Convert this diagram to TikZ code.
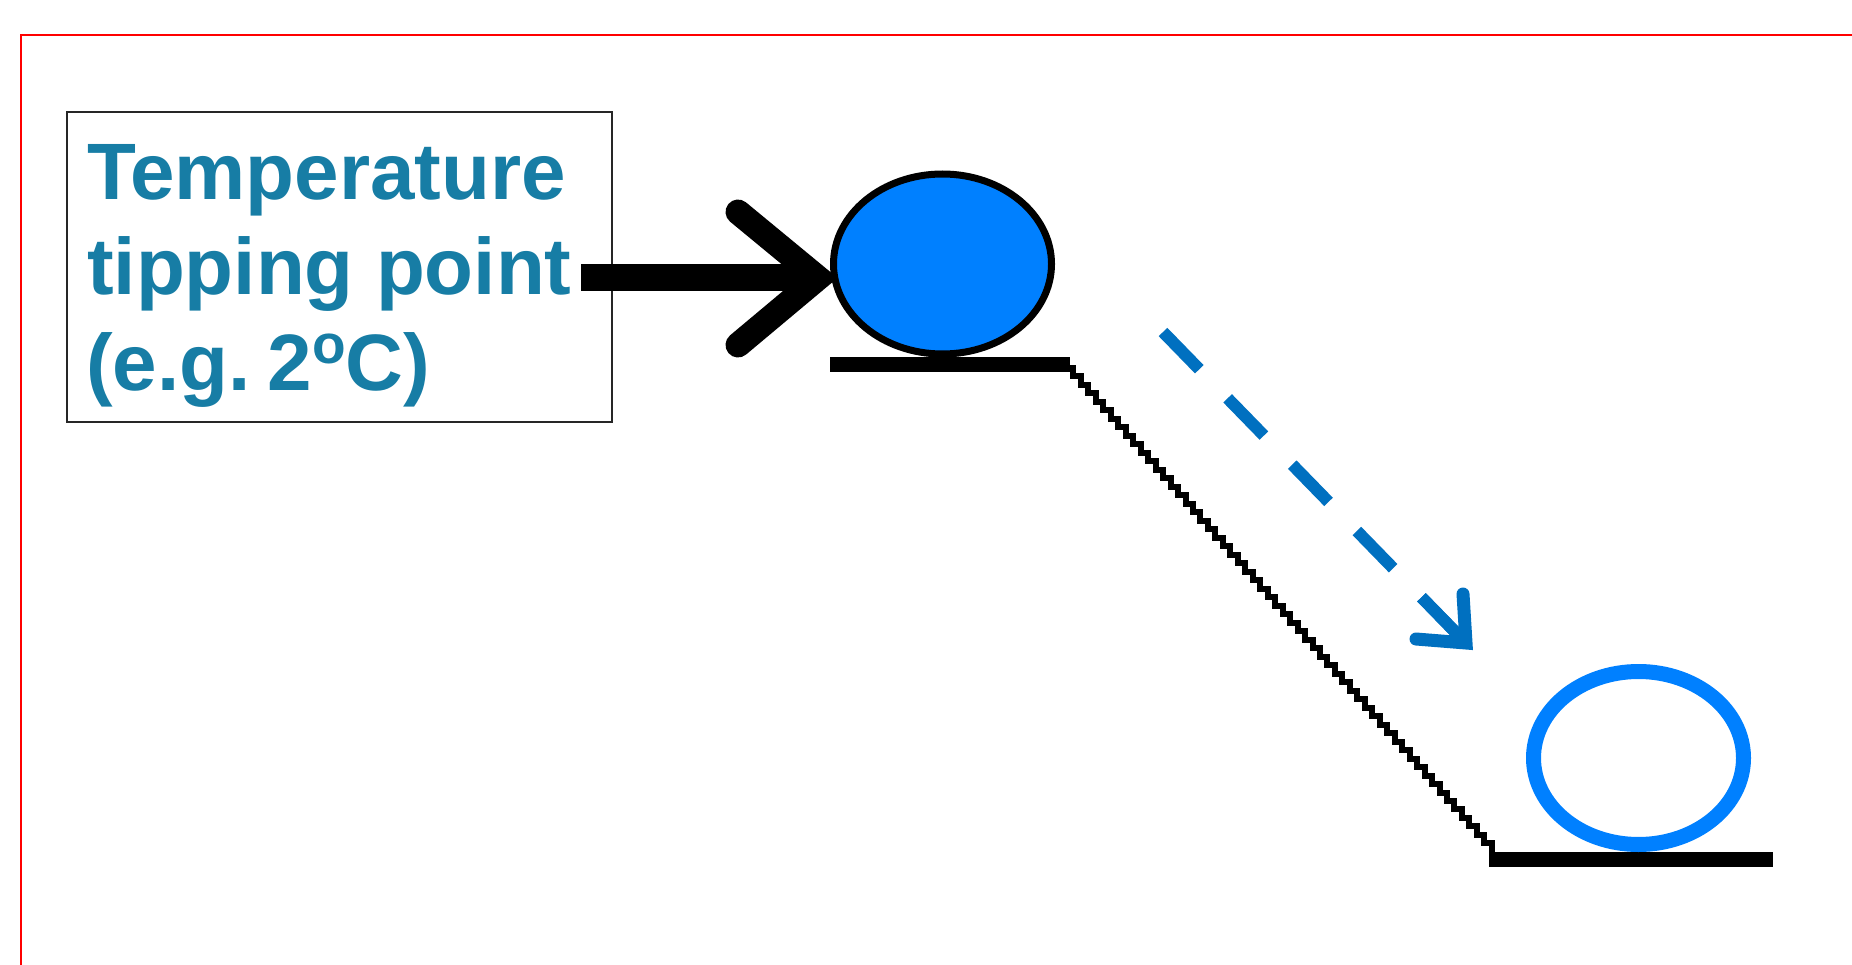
\documentclass[tikz,border=0pt]{standalone}
\usepackage{fontspec}
\setmainfont{Liberation Sans}
\usetikzlibrary{shapes.geometric}
\definecolor{txtblue}{HTML}{177DA5}
\definecolor{ballblue}{HTML}{0080FF}
\definecolor{dashblue}{HTML}{0070C0}
\begin{document}
\begin{tikzpicture}[x=1pt,y=-1pt,
  lbl/.style={anchor=base west, inner sep=0pt, font=\fontsize{80}{94}\selectfont\bfseries, text=txtblue},
  ground/.style={line width=15pt},
  bigarrow/.style={line width=25pt, line cap=round, line join=miter},
  fallarrow/.style={dashblue, line width=12pt},
  fallhead/.style={dashblue, line width=13pt, line cap=round, line join=miter}]
\useasboundingbox (0,0) rectangle (1852,965);
\fill[white] (0,0) rectangle (1852,965);
\draw[red, line width=1.5pt] (21,965) -- (21,35) -- (1852,35);
% text box
\node[draw=black!85, line width=2pt, minimum width=545pt, minimum height=310pt, inner sep=0pt] (box) at (339.5,267) {};
\node[lbl] (t1) at (87,200) {Temperature};
\node[lbl] (t2) at (87,295) {tipping point};
\node[lbl] (t3) at (86,391) {(e.g.\hspace{17pt}2\raisebox{28pt}{\fontsize{55}{55}\selectfont o}C)};
% black arrow
\coordinate (shaftL) at (581,278);
\coordinate (tipV) at (818,278);
\coordinate (wA) at (738,212);
\coordinate (wB) at (738,345);
\draw[line width=27pt] (shaftL) -- (tipV);
\draw[bigarrow] (wA) -- (tipV) -- (wB);
% ground
\coordinate (g1a) at (830,364.5);
\coordinate (g1b) at (1070,364.5);
\coordinate (s1) at (1066,368);
\coordinate (s2) at (1492,852);
\coordinate (g2a) at (1489,859.5);
\coordinate (g2b) at (1773,859.5);
\draw[ground] (g1a) -- (g1b);
\draw[line width=6pt, line join=miter] (s1) foreach \i in {1,...,57} { -- ++(7.47,0) -- ++(0,8.49) };
\draw[ground] (g2a) -- (g2b);
% balls
\node[ellipse, draw=black, fill=ballblue, line width=7pt, minimum width=218pt, minimum height=180pt, inner sep=0pt] (ball1) at (942.5,264) {};
\node[ellipse, draw=ballblue, line width=15pt, minimum width=210pt, minimum height=173pt, inner sep=0pt] (ball2) at (1638.5,758) {};
% dashed arrow
\coordinate (ds) at (1163,332);
\coordinate (d5) at (1421.5,597.3);
\coordinate (dv) at (1466,643);
\coordinate (hA) at (1463,594);
\coordinate (hB) at (1416,639);
\draw[fallarrow, dash pattern=on 52pt off 40.6pt] (ds) -- (dv);
\draw[fallarrow] (d5) -- (dv);
\draw[fallhead] (hA) -- (dv) -- (hB);
\end{tikzpicture}
\end{document}
